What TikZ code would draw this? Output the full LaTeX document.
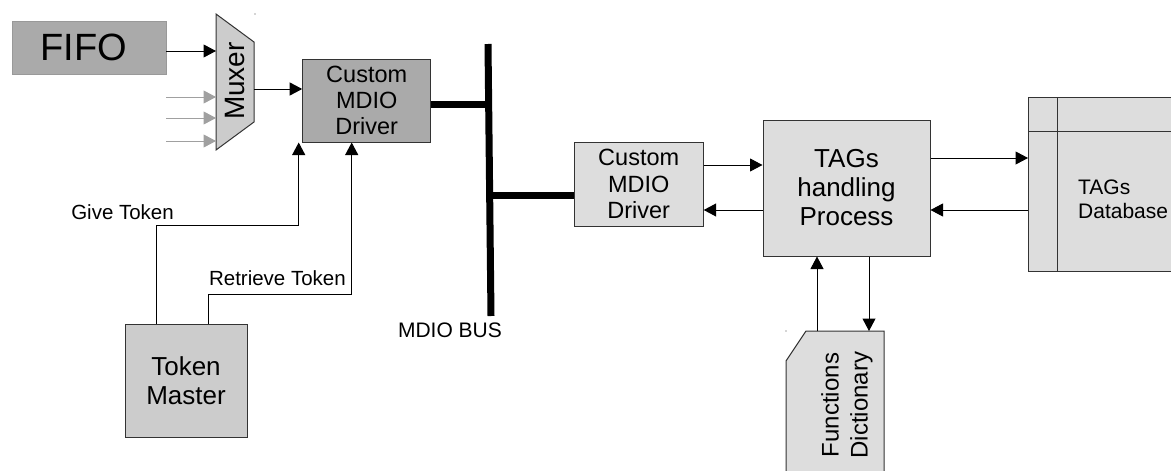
\documentclass[tikz,border=0pt]{standalone}
\usepackage{fontspec}
\setmainfont{Liberation Sans}
\usetikzlibrary{arrows.meta,calc}

\definecolor{darkfill}{HTML}{AAAAAA}
\definecolor{midfill}{HTML}{CCCCCC}
\definecolor{lightfill}{HTML}{DDDDDD}
\definecolor{edge}{HTML}{333333}
\definecolor{faint}{HTML}{A0A0A0}

\tikzset{
  box/.style={draw=edge, line width=1pt, inner sep=0pt, align=center},
  arr/.style={draw=black, line width=1pt, -{Triangle[length=12.5pt,width=13pt]}},
  grayarr/.style={draw=faint, line width=1pt, -{Triangle[length=12.5pt,width=13pt,color=faint]}},
  bus/.style={line width=7pt, line cap=butt},
  caption/.style={inner sep=0pt, font=\fontsize{20.5}{23}\selectfont}
}

\begin{document}
\begin{tikzpicture}[x=1pt,y=-1pt]
\useasboundingbox (0,0) rectangle (1171,471);
\clip (0,0) rectangle (1171,471);
\fill[white] (0,0) rectangle (1171,471);

% FIFO source
\node[box, draw=gray!80, line width=0.6pt, fill=darkfill, minimum width=154pt, minimum height=53pt,
      font=\fontsize{38}{42}\selectfont] (fifo) at (89,47.5) {FIFO\hspace*{10pt}};

% multiplexer (trapezoid drawn directly, named text node on top)
\draw[draw=edge, line width=1pt, fill=midfill] (216,14) -- (254,42) -- (254,122) -- (216,150) -- cycle;
\node[rotate=90, inner sep=0pt, font=\fontsize{28}{30}\selectfont] (mux) at (235,81) {Muxer};
\coordinate (muxin1) at (216,51);
\coordinate (muxin2) at (216,97);
\coordinate (muxin3) at (216,118);
\coordinate (muxin4) at (216,141);
\coordinate (muxout) at (254,89);
\coordinate (src2) at (166,97);
\coordinate (src3) at (166,118);
\coordinate (src4) at (166,141);

% first MDIO driver
\node[box, fill=darkfill, minimum width=128pt, minimum height=83pt,
      font=\fontsize{23.5}{26}\selectfont] (drv1) at (366.7,100.5) {Custom\\MDIO\\Driver};

% token master
\node[box, fill=midfill, minimum width=122pt, minimum height=113pt,
      font=\fontsize{26}{29}\selectfont] (tm) at (186,380.5) {Token\\Master};

% second MDIO driver
\node[box, fill=lightfill, minimum width=129pt, minimum height=84pt,
      font=\fontsize{23.5}{26.5}\selectfont] (drv2) at (638.7,184) {Custom\\MDIO\\Driver};

% TAG handling process
\node[box, fill=lightfill, minimum width=167pt, minimum height=136pt,
      font=\fontsize{26}{29}\selectfont] (tags) at (846.5,188) {TAGs\\handling\\Process};

% TAG database (extends past the right border)
\draw[draw=edge, line width=1pt, fill=lightfill] (1028,97) rectangle (1200,271);
\draw[draw=edge, line width=1pt] (1057.3,97) -- (1057.3,271);
\draw[draw=edge, line width=1pt] (1028,131) -- (1200,131);
\node[inner sep=0pt, align=left, anchor=west, font=\fontsize{21}{24}\selectfont] (db) at (1078,199) {TAGs\\Database};
\coordinate (dbin) at (1028,158);
\coordinate (dbout) at (1028,210);

% functions dictionary (card shape, runs past the bottom border)
\draw[draw=edge, line width=1pt, fill=lightfill] (806,331) -- (884,331) -- (884,490) -- (786,490) -- (786,361) -- cycle;
\node[rotate=90, inner sep=0pt, align=center, font=\fontsize{24}{29}\selectfont] (fd) at (847,405) {Functions\\Dictionary};
\coordinate (fdtopL) at (817,331);
\coordinate (fdtopR) at (869,331);

% stray marks
\fill[black!70] (255,14) circle (0.7pt);
\fill[black!70] (786,331) circle (0.7pt);

% MDIO bus
\coordinate (bustop) at (488,44);
\coordinate (busbot) at (491,316);
\draw[bus] (bustop) -- (busbot);
\coordinate (bj1) at (489.1,104);
\coordinate (bj2) at (490.3,195);
\draw[bus] (drv1.east |- bj1) -- ([xshift=3pt]bj1);
\draw[bus] ([xshift=-3pt]bj2) -- (drv2.west |- bj2);
\node[inner sep=0pt, font=\fontsize{21}{23}\selectfont] (buslabel) at (450,330.7) {MDIO BUS};

% mux inputs and output
\draw[arr] (fifo.east |- muxin1) -- (muxin1);
\draw[grayarr] (src2) -- (muxin2);
\draw[grayarr] (src3) -- (muxin3);
\draw[grayarr] (src4) -- (muxin4);
\draw[arr] (muxout) -- (drv1.west |- muxout);

% token lines
\coordinate (gt) at (156,225);
\coordinate (rt) at (208,294);
\draw[arr] (tm.north -| gt) -- (gt) -| ([xshift=-3.5pt]drv1.south west);
\draw[arr] (tm.north -| rt) -- (rt) -| ([xshift=49.5pt]drv1.south west);
\node[caption, anchor=east] (give) at (174,211.7) {Give Token};
\node[caption, anchor=east] (retr) at (346,278) {Retrieve Token};

% driver <-> process
\coordinate (req) at (700,165);
\coordinate (rsp) at (700,210);
\draw[arr] (drv2.east |- req) -- (tags.west |- req);
\draw[arr] (tags.west |- rsp) -- (drv2.east |- rsp);

% process <-> database
\draw[arr] (tags.east |- dbin) -- (dbin);
\draw[arr] (dbout) -- (tags.east |- dbout);

% process <-> functions dictionary
\draw[arr] (fdtopL) -- (tags.south -| fdtopL);
\draw[arr] (tags.south -| fdtopR) -- (fdtopR);
\end{tikzpicture}
\end{document}
